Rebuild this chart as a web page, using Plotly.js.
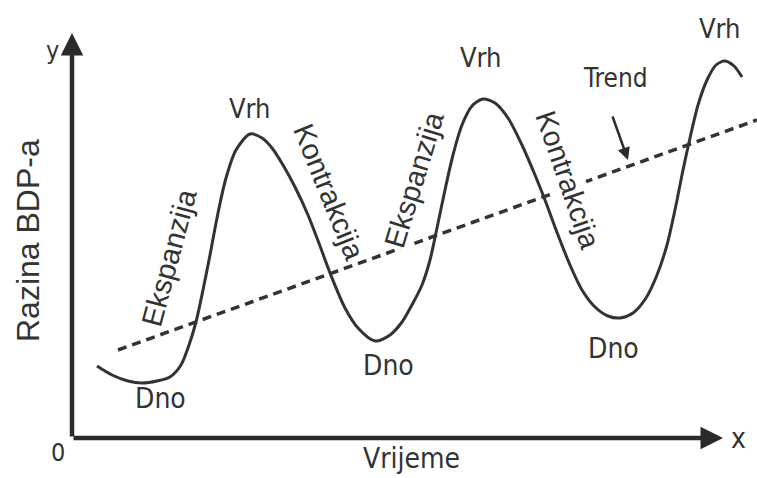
<!DOCTYPE html>
<html>
<head>
<meta charset="utf-8">
<script src="https://cdn.plot.ly/plotly-3.0.1.min.js"></script>
<style>html,body{margin:0;padding:0;background:#fff;}#chart{width:757px;height:478px;}</style>
</head>
<body>
<div id="chart"></div>
<script>
// Business cycle curve (time vs. GDP level)
var cycleTime = [25,40,56,70,85,98,109,116,124,131,138,146,154,164,178,190,200,211,223,236,248,260,273,286,303,318,330,341,350,358,365,373,381,390,400,411,423,436,450,463,473,486,498,510,523,536,548,561,574,585,595,604,611,618,626,635,644,653,662,670];
var cycleLevel = [72,63,57,55,57,61,73,90,116,148,183,225,260,288,304,300,290,273,251,223,192,160,130,110,97,103,116,135,153,178,210,248,283,313,332,339,335,320,293,263,238,203,173,148,131,122,120,125,140,163,193,233,268,300,333,358,373,377,372,361];
// Trend line endpoints
var trendTime = [46,685];
var trendLevel = [88,318];
// Label texts
var peakLabel = "Vrh";
var troughLabel = "Dno";
var expansionLabel = "Ekspanzija";
var contractionLabel = "Kontrakcija";
var trendLabel = "Trend";
var xAxisLabel = "Vrijeme";
var yAxisLabel = "Razina BDP-a";

var narrow = "Liberation Sans Narrow, DejaVu Sans Condensed, Arial Narrow, Liberation Sans, sans-serif";
var regular = "Liberation Sans, Arial, sans-serif";
var txtColor = "#333333";

function lab(text, x, y, size, angle, fam, bg) {
  return {text: text, x: x, y: y, xref: 'x', yref: 'y', showarrow: false,
    textangle: angle || 0, xanchor: 'center', yanchor: 'middle',
    bgcolor: bg ? '#ffffff' : 'rgba(0,0,0,0)', borderpad: 0,
    font: {family: fam || narrow, size: size, color: txtColor}};
}
function arrow(x0, y0, x1, y1, w, head) {
  return {text: '', x: x1, y: y1, ax: x0, ay: y0, xref: 'x', yref: 'y', axref: 'x', ayref: 'y',
    showarrow: true, arrowhead: head, arrowsize: 1, arrowwidth: w, arrowcolor: '#2a2a2a', standoff: 0, startstandoff: 0};
}

var traces = [
  {x: trendTime, y: trendLevel, mode: 'lines', line: {color: '#333', width: 3.5, dash: '9px,6px'}, hoverinfo: 'skip'},
  {x: cycleTime, y: cycleLevel, mode: 'lines', line: {color: '#333', width: 3, shape: 'spline', smoothing: 0.8}, hoverinfo: 'skip'}
];

var annotations = [
  arrow(0, 0, 651, 0, 4.5, 2),
  arrow(0, 0, 0, 405, 4.5, 2),
  arrow(540, 323, 556, 278, 2.5, 2),
  lab('y', -20, 388, 25),
  lab('0', -14, -14, 25),
  lab('x', 666, 0, 28),
  lab(yAxisLabel, -44, 197, 32, -90, regular),
  lab(xAxisLabel, 339, -20, 28),
  lab(peakLabel, 178, 330, 27),
  lab(peakLabel, 409, 381, 27),
  lab(peakLabel, 648, 410, 27),
  lab(troughLabel, 88, 40, 28),
  lab(troughLabel, 316, 73, 28),
  lab(troughLabel, 541, 90, 28),
  lab(trendLabel, 543, 360, 26),
  lab(expansionLabel, 97, 180, 29, -75, regular, true),
  lab(contractionLabel, 257, 246, 29, 68, regular, true),
  lab(expansionLabel, 342, 258, 29, -73, regular, true),
  lab(contractionLabel, 496, 258, 29, 71, regular, true)
];

var layout = {
  width: 757, height: 478,
  margin: {l: 0, r: 0, t: 0, b: 0},
  paper_bgcolor: '#ffffff', plot_bgcolor: '#ffffff',
  showlegend: false,
  xaxis: {range: [-72, 685], visible: false, fixedrange: true},
  yaxis: {range: [-40, 438], visible: false, fixedrange: true},
  annotations: annotations
};

Plotly.newPlot('chart', traces, layout, {staticPlot: true, displayModeBar: false});
</script>
</body>
</html>
